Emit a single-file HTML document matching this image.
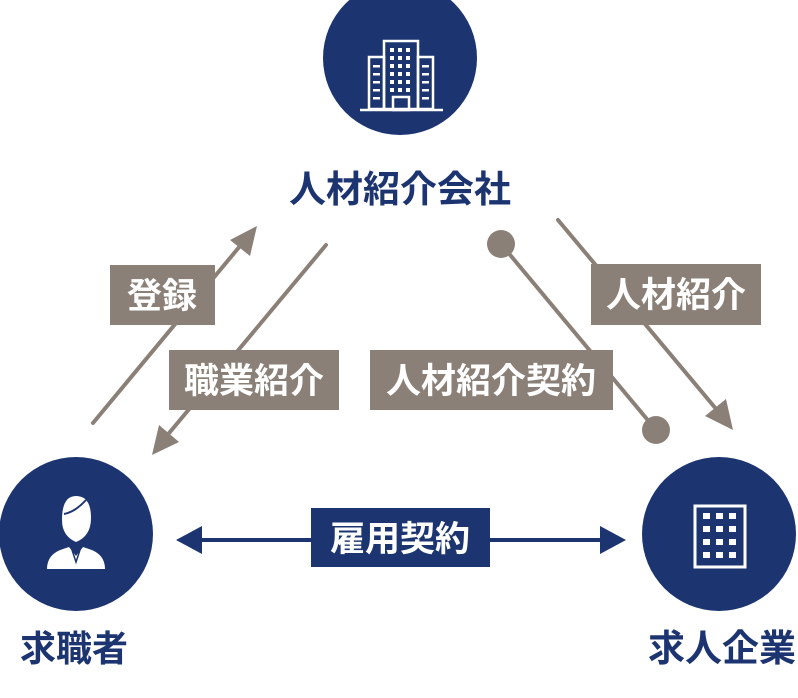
<!DOCTYPE html>
<html><head><meta charset="utf-8"><style>
html,body{margin:0;padding:0;background:#fff;}
svg{display:block}
text{font-family:"Liberation Sans","Noto Sans CJK JP",sans-serif;font-weight:bold;}
</style></head><body>
<svg width="798" height="698" viewBox="0 0 798 698" xmlns="http://www.w3.org/2000/svg">
<circle cx="400" cy="58" r="77" fill="#1c3571"/>
<circle cx="76" cy="534" r="77" fill="#1c3571"/>
<circle cx="719" cy="534" r="77" fill="#1c3571"/>
<g fill="none" stroke="#fff" stroke-width="2.5">
<rect x="384" y="41" width="34" height="68"/>
<rect x="369" y="57" width="15" height="52"/>
<rect x="418" y="57" width="15" height="52"/>
<line x1="360" y1="110" x2="443" y2="110"/>
<rect x="393" y="97" width="16" height="13"/>
</g>
<g fill="#fff">
<rect x="390" y="48" width="4" height="4"/><rect x="398" y="48" width="4" height="4"/><rect x="406" y="48" width="4" height="4"/>
<rect x="390" y="56" width="4" height="4"/><rect x="398" y="56" width="4" height="4"/><rect x="406" y="56" width="4" height="4"/>
<rect x="390" y="64" width="4" height="4"/><rect x="398" y="64" width="4" height="4"/><rect x="406" y="64" width="4" height="4"/>
<rect x="390" y="72" width="4" height="4"/><rect x="398" y="72" width="4" height="4"/><rect x="406" y="72" width="4" height="4"/>
<rect x="390" y="80" width="4" height="4"/><rect x="398" y="80" width="4" height="4"/><rect x="406" y="80" width="4" height="4"/>
<rect x="390" y="88" width="4" height="4"/><rect x="398" y="88" width="4" height="4"/><rect x="406" y="88" width="4" height="4"/>
<rect x="373" y="65" width="7" height="2.5"/><rect x="373" y="73" width="7" height="2.5"/><rect x="373" y="81" width="7" height="2.5"/><rect x="373" y="89" width="7" height="2.5"/><rect x="373" y="97" width="7" height="2.5"/>
<rect x="422" y="65" width="7" height="2.5"/><rect x="422" y="73" width="7" height="2.5"/><rect x="422" y="81" width="7" height="2.5"/><rect x="422" y="89" width="7" height="2.5"/><rect x="422" y="97" width="7" height="2.5"/>
</g>
<g fill="#fff">
<path d="M47 569 Q47 554 63 549 L69 547 L76 556 L83 547 L89 549 Q105 554 105 569 Z"/>
<path d="M62 520 Q62 496 76 496 Q91 496 91 518 Q91 536 76 542 Q62 536 62 520 Z"/>
</g>
<path d="M64 514 Q75 512 86 500" stroke="#1c3571" stroke-width="2" fill="none"/>
<path d="M72 550 L76 562 L80 550" stroke="#1c3571" stroke-width="1.5" fill="none"/>
<rect x="695" y="506" width="50" height="61" fill="none" stroke="#fff" stroke-width="3"/>
<g fill="#fff">
<rect x="703" y="513" width="7" height="6"/><rect x="716" y="513" width="7" height="6"/><rect x="729" y="513" width="7" height="6"/>
<rect x="703" y="526" width="7" height="6"/><rect x="716" y="526" width="7" height="6"/><rect x="729" y="526" width="7" height="6"/>
<rect x="703" y="539" width="7" height="6"/><rect x="716" y="539" width="7" height="6"/><rect x="729" y="539" width="7" height="6"/>
<rect x="703" y="552" width="7" height="6"/><rect x="716" y="552" width="7" height="6"/><rect x="729" y="552" width="7" height="6"/>
</g>
<text x="400" y="202" font-size="37" fill="#1c3571" text-anchor="middle">人材紹介会社</text>
<text x="74" y="661" font-size="36" fill="#1c3571" text-anchor="middle">求職者</text>
<text x="722" y="661" font-size="37" fill="#1c3571" text-anchor="middle">求人企業</text>
<g stroke="#8a8078" stroke-width="4" stroke-linecap="round">
<line x1="93" y1="423" x2="245" y2="240"/>
<line x1="326" y1="245" x2="165" y2="438"/>
<line x1="501" y1="244" x2="656" y2="430"/>
<line x1="558" y1="220" x2="722" y2="416"/>
</g>
<g fill="#8a8078">
<polygon points="257,226 230,240 250,256"/>
<polygon points="152,455 159,425 179,442"/>
<polygon points="733,430 705,416 726,399"/>
<circle cx="501" cy="244" r="14"/>
<circle cx="656" cy="430" r="14"/>
<rect x="110" y="265" width="105" height="60"/>
<rect x="169" y="350" width="170" height="60"/>
<rect x="370" y="350" width="243" height="60"/>
<rect x="591" y="264" width="170" height="61"/>
</g>
<g fill="#fff" font-size="35">
<text x="162" y="308" text-anchor="middle">登録</text>
<text x="254" y="393" text-anchor="middle">職業紹介</text>
<text x="491" y="393" text-anchor="middle">人材紹介契約</text>
<text x="676" y="307" text-anchor="middle">人材紹介</text>
</g>
<line x1="195" y1="540" x2="608" y2="540" stroke="#1c3571" stroke-width="4"/>
<polygon points="176,540 202,526 202,554" fill="#1c3571"/>
<polygon points="626,540 600,526 600,554" fill="#1c3571"/>
<rect x="311" y="508" width="179" height="59" fill="#1c3571"/>
<text x="400" y="551" font-size="35" fill="#fff" text-anchor="middle">雇用契約</text>
</svg>
</body></html>
